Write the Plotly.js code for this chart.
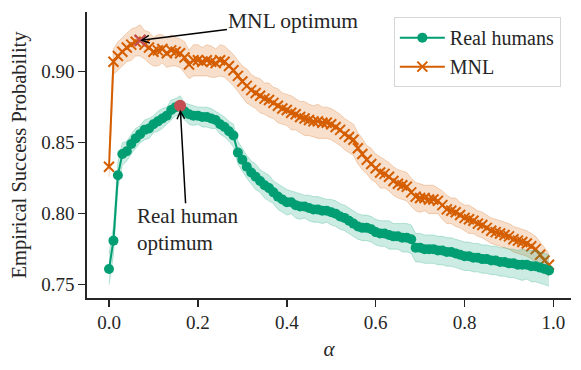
<!DOCTYPE html>
<html>
<head>
<meta charset="utf-8">
<script src="https://cdn.plot.ly/plotly-3.0.1.min.js"></script>
<style>html,body{margin:0;padding:0;background:#fff;}#chart{width:581px;height:370px;}</style>
</head>
<body>
<div id="chart"></div>
<script>
// alpha values 0.00 .. 0.99
const alpha = [
0.00,0.01,0.02,0.03,0.04,0.05,0.06,0.07,0.08,0.09,
0.10,0.11,0.12,0.13,0.14,0.15,0.16,0.17,0.18,0.19,
0.20,0.21,0.22,0.23,0.24,0.25,0.26,0.27,0.28,0.29,
0.30,0.31,0.32,0.33,0.34,0.35,0.36,0.37,0.38,0.39,
0.40,0.41,0.42,0.43,0.44,0.45,0.46,0.47,0.48,0.49,
0.50,0.51,0.52,0.53,0.54,0.55,0.56,0.57,0.58,0.59,
0.60,0.61,0.62,0.63,0.64,0.65,0.66,0.67,0.68,0.69,
0.70,0.71,0.72,0.73,0.74,0.75,0.76,0.77,0.78,0.79,
0.80,0.81,0.82,0.83,0.84,0.85,0.86,0.87,0.88,0.89,
0.90,0.91,0.92,0.93,0.94,0.95,0.96,0.97,0.98,0.99];

const humans = [
0.761,0.781,0.827,0.842,0.844,0.849,0.853,0.856,0.859,0.860,
0.863,0.865,0.867,0.869,0.873,0.875,0.876,0.872,0.870,0.869,
0.869,0.868,0.868,0.867,0.866,0.863,0.861,0.858,0.855,0.843,
0.838,0.833,0.829,0.826,0.823,0.820,0.818,0.815,0.812,0.810,
0.808,0.808,0.806,0.805,0.805,0.804,0.803,0.803,0.802,0.802,
0.801,0.800,0.798,0.797,0.795,0.793,0.791,0.790,0.790,0.789,
0.787,0.786,0.786,0.785,0.784,0.784,0.783,0.783,0.782,0.776,
0.776,0.775,0.775,0.775,0.774,0.774,0.773,0.773,0.772,0.771,
0.770,0.770,0.769,0.769,0.768,0.768,0.767,0.767,0.766,0.766,
0.765,0.765,0.764,0.764,0.764,0.763,0.763,0.762,0.761,0.760];

const humansCI = [
0.011,0.010,0.009,0.008,0.007,0.007,0.007,0.006,0.007,0.007,
0.006,0.007,0.007,0.006,0.007,0.006,0.007,0.006,0.007,0.007,
0.006,0.007,0.007,0.007,0.006,0.007,0.007,0.007,0.008,0.008,
0.008,0.008,0.008,0.009,0.008,0.009,0.009,0.008,0.009,0.009,
0.009,0.008,0.009,0.009,0.008,0.009,0.009,0.009,0.009,0.008,
0.009,0.009,0.009,0.009,0.009,0.009,0.009,0.009,0.009,0.009,
0.009,0.009,0.009,0.010,0.009,0.009,0.010,0.010,0.010,0.010,
0.010,0.010,0.010,0.010,0.010,0.010,0.010,0.010,0.010,0.010,
0.010,0.010,0.010,0.010,0.010,0.010,0.010,0.010,0.010,0.010,
0.010,0.010,0.010,0.011,0.010,0.011,0.011,0.011,0.011,0.011];

const mnl = [
0.833,0.907,0.911,0.914,0.917,0.919,0.921,0.922,0.919,0.917,
0.914,0.915,0.916,0.913,0.915,0.914,0.913,0.910,0.905,0.908,
0.908,0.907,0.908,0.907,0.906,0.908,0.907,0.904,0.901,0.897,
0.893,0.890,0.887,0.885,0.883,0.881,0.880,0.878,0.876,0.874,
0.873,0.871,0.870,0.868,0.867,0.866,0.865,0.865,0.864,0.864,
0.863,0.861,0.859,0.856,0.854,0.852,0.846,0.842,0.838,0.835,
0.832,0.829,0.828,0.826,0.823,0.821,0.820,0.819,0.815,0.812,
0.811,0.811,0.810,0.810,0.809,0.806,0.803,0.802,0.801,0.799,
0.797,0.796,0.795,0.793,0.792,0.790,0.788,0.787,0.786,0.785,
0.784,0.782,0.781,0.780,0.779,0.777,0.775,0.771,0.767,0.764];

const mnlCI = [
0.007,0.009,0.010,0.010,0.010,0.011,0.010,0.011,0.010,0.011,
0.010,0.011,0.010,0.010,0.011,0.010,0.010,0.011,0.010,0.011,
0.011,0.010,0.011,0.011,0.010,0.011,0.011,0.011,0.011,0.011,
0.011,0.012,0.011,0.011,0.012,0.011,0.012,0.011,0.012,0.011,
0.011,0.012,0.011,0.011,0.012,0.011,0.011,0.012,0.011,0.011,
0.011,0.011,0.011,0.011,0.011,0.011,0.011,0.011,0.010,0.011,
0.010,0.011,0.010,0.010,0.010,0.010,0.010,0.010,0.010,0.010,
0.010,0.009,0.010,0.010,0.009,0.010,0.010,0.009,0.010,0.009,
0.009,0.010,0.009,0.009,0.009,0.009,0.009,0.009,0.009,0.009,
0.009,0.009,0.009,0.009,0.009,0.009,0.009,0.009,0.009,0.008];

const humanOptIdx = 16;  // alpha = 0.16
const mnlOptIdx = 7;     // alpha = 0.07

const GREEN = '#029e73', ORANGE = '#d55e00', RED = '#c44e52';
const FONT = 'Liberation Serif';
const TXT = '#262626';

const lower = (v, c) => v.map((y, i) => y - c[i]);
const upper = (v, c) => v.map((y, i) => y + c[i]);

const traces = [
  {x: alpha, y: mnl, type: 'scatter', mode: 'lines+markers', name: 'MNL',
   line: {color: ORANGE, width: 2},
   marker: {symbol: 'x-thin', size: 10, color: ORANGE, line: {color: ORANGE, width: 2}}},
  {x: alpha, y: lower(mnl, mnlCI), type: 'scatter', mode: 'lines', showlegend: false, hoverinfo: 'skip',
   line: {color: 'rgba(213,94,0,0.25)', width: 1}},
  {x: alpha, y: upper(mnl, mnlCI), type: 'scatter', mode: 'lines', showlegend: false, hoverinfo: 'skip',
   fill: 'tonexty', fillcolor: 'rgba(213,94,0,0.2)', line: {color: 'rgba(213,94,0,0.25)', width: 1}},
  {x: alpha, y: humans, type: 'scatter', mode: 'lines+markers', name: 'Real humans',
   line: {color: GREEN, width: 2},
   marker: {symbol: 'circle', size: 10, color: GREEN}},
  {x: alpha, y: lower(humans, humansCI), type: 'scatter', mode: 'lines', showlegend: false, hoverinfo: 'skip',
   line: {color: 'rgba(2,158,115,0.25)', width: 1}},
  {x: alpha, y: upper(humans, humansCI), type: 'scatter', mode: 'lines', showlegend: false, hoverinfo: 'skip',
   fill: 'tonexty', fillcolor: 'rgba(2,158,115,0.2)', line: {color: 'rgba(2,158,115,0.25)', width: 1}},
  {x: [alpha[humanOptIdx]], y: [humans[humanOptIdx]], type: 'scatter', mode: 'markers', showlegend: false,
   marker: {symbol: 'circle', size: 12, color: RED}},
  {x: [alpha[mnlOptIdx]], y: [mnl[mnlOptIdx]], type: 'scatter', mode: 'markers', showlegend: false,
   marker: {symbol: 'x-thin', size: 11, color: RED, line: {color: RED, width: 2.2}}}
];

const axisCommon = {
  showgrid: false, zeroline: false, showline: true, linecolor: TXT, linewidth: 1.6,
  ticks: 'outside', ticklen: 7, tickwidth: 1.6, tickcolor: TXT,
  tickfont: {family: FONT, size: 19, color: TXT}
};

const layout = {
  width: 581, height: 370,
  margin: {l: 87, r: 10, t: 12, b: 72},
  paper_bgcolor: '#fff', plot_bgcolor: '#fff',
  font: {family: FONT, size: 20, color: TXT},
  xaxis: Object.assign({}, axisCommon, {
    range: [-0.0495, 1.0395], tick0: 0, dtick: 0.2, tickformat: '.1f',
    title: {text: '<i>α</i>', font: {family: FONT, size: 21, color: TXT}, standoff: 9}
  }),
  yaxis: Object.assign({}, axisCommon, {
    range: [0.7406, 0.942], tick0: 0.75, dtick: 0.05, tickformat: '.2f',
    title: {text: 'Empirical Success Probability', font: {family: FONT, size: 20.5, color: TXT}, standoff: 9}
  }),
  legend: {
    x: 0.979, y: 0.982, xanchor: 'right', yanchor: 'top', traceorder: 'reversed',
    itemwidth: 45,
    bgcolor: 'rgba(255,255,255,0.8)', bordercolor: '#d6d6d6', borderwidth: 1,
    font: {family: FONT, size: 20, color: TXT}
  },
  annotations: [
    {x: alpha[mnlOptIdx], y: mnl[mnlOptIdx], xref: 'x', yref: 'y',
     ax: 0.415, ay: 0.9357, axref: 'x', ayref: 'y',
     text: 'MNL optimum', showarrow: true, arrowhead: 5, arrowsize: 1, arrowwidth: 1.5,
     arrowcolor: '#000', standoff: 0, font: {family: FONT, size: 21.5, color: TXT}},
    {x: alpha[humanOptIdx], y: humans[humanOptIdx], xref: 'x', yref: 'y',
     ax: 0.1725, ay: 0.8063, axref: 'x', ayref: 'y',
     text: '', showarrow: true, arrowhead: 5, arrowsize: 1, arrowwidth: 1.5,
     arrowcolor: '#000', standoff: 4},
    {x: 0.0578, y: 0.7887, xref: 'x', yref: 'y', xanchor: 'left', yanchor: 'middle', align: 'left',
     text: 'Real human<br>optimum', showarrow: false,
     font: {family: FONT, size: 21, color: TXT}}
  ]
};

Plotly.newPlot('chart', traces, layout, {displayModeBar: false, staticPlot: true});
</script>
</body>
</html>
